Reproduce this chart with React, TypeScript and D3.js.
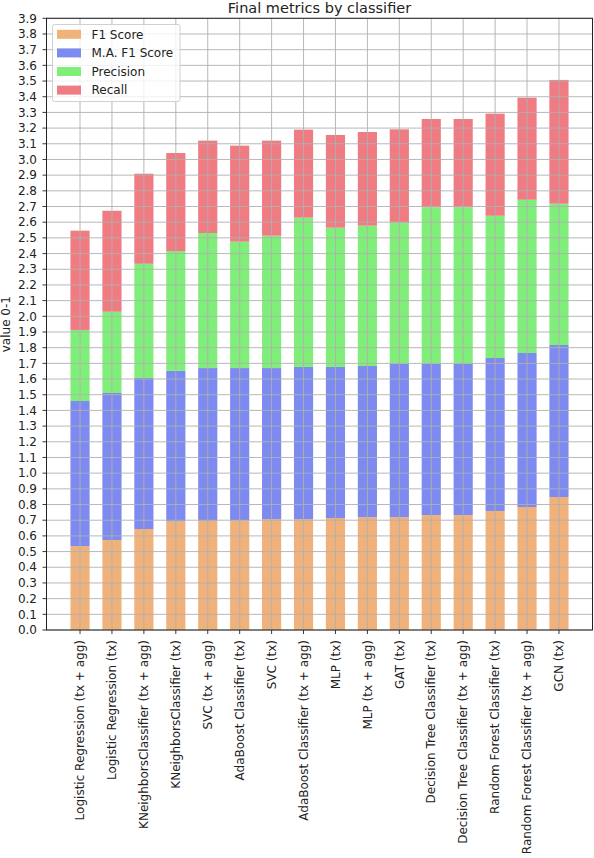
import React from "react";
import * as d3 from "d3";

const categories = [
  "Logistic Regression (tx + agg)",
  "Logistic Regression (tx)",
  "KNeighborsClassifier (tx + agg)",
  "KNeighborsClassifier (tx)",
  "SVC (tx + agg)",
  "AdaBoost Classifier (tx)",
  "SVC (tx)",
  "AdaBoost Classifier (tx + agg)",
  "MLP (tx)",
  "MLP (tx + agg)",
  "GAT (tx)",
  "Decision Tree Classifier (tx)",
  "Decision Tree Classifier (tx + agg)",
  "Random Forest Classifier (tx)",
  "Random Forest Classifier (tx + agg)",
  "GCN (tx)",
];

const f1Score = [0.535, 0.574, 0.644, 0.693, 0.697, 0.699, 0.707, 0.707, 0.714, 0.72, 0.72, 0.733, 0.733, 0.759, 0.784, 0.848];
const maF1Score = [0.925, 0.937, 0.963, 0.959, 0.973, 0.971, 0.963, 0.97, 0.963, 0.963, 0.978, 0.965, 0.965, 0.975, 0.982, 0.969];
const precision = [0.453, 0.518, 0.728, 0.764, 0.861, 0.806, 0.844, 0.952, 0.888, 0.895, 0.901, 0.997, 0.997, 0.907, 0.977, 0.901];
const recall = [0.633, 0.644, 0.574, 0.625, 0.589, 0.612, 0.606, 0.561, 0.591, 0.597, 0.593, 0.563, 0.563, 0.651, 0.651, 0.789];

const seriesNames = ["F1 Score", "M.A. F1 Score", "Precision", "Recall"];
const seriesColors = ["#f0b27a", "#7d8aef", "#80ef7a", "#ef7b83"];
const yTicks = d3.range(0, 40).map((i) => i / 10);

const W = 594;
const H = 858;
const M = { left: 46.5, right: 592.5, top: 18.3, bottom: 630 };

export default function App() {
  const n = categories.length;
  const x = d3.scaleLinear().domain([-1.05, n - 1 + 1.05]).range([M.left, M.right]);
  const y = d3.scaleLinear().domain([0, 3.9]).range([M.bottom, M.top]);
  const barW = (x(1) - x(0)) * 0.6;

  const rows = categories.map((c, i) => ({
    key: c,
    "F1 Score": f1Score[i],
    "M.A. F1 Score": maF1Score[i],
    Precision: precision[i],
    Recall: recall[i],
  }));
  const stacked = d3.stack<any>().keys(seriesNames)(rows);
  const font = "DejaVu Sans, sans-serif";
  const grid = "#b0b0b0";
  const fs = 12;

  return (
    <svg width={W} height={H} style={{ position: "absolute", left: 0, top: 0, background: "#fff" }} fontFamily={font}>
      <rect x={0} y={0} width={W} height={H} fill="#fff" />
      {stacked.map((s, si) => (
        <g key={s.key} fill={seriesColors[si]}>
          {s.map((d, i) => (
            <rect key={i} x={x(i) - barW / 2} y={y(d[1])} width={barW} height={y(d[0]) - y(d[1])} />
          ))}
        </g>
      ))}
      {/* grid */}
      <g stroke={grid} strokeWidth={0.9}>
        {yTicks.map((t) => (
          <line key={"gy" + t} x1={M.left} x2={M.right} y1={y(t)} y2={y(t)} />
        ))}
        {categories.map((c, i) => (
          <line key={"gx" + i} x1={x(i)} x2={x(i)} y1={M.top} y2={M.bottom} />
        ))}
      </g>
      {/* frame */}
      <rect x={M.left} y={M.top} width={M.right - M.left} height={M.bottom - M.top} fill="none" stroke="#222" strokeWidth={1} />
      {/* y axis */}
      <g fontSize={fs} fill="#222">
        {yTicks.map((t) => (
          <g key={"ty" + t}>
            <line x1={M.left - 4} x2={M.left} y1={y(t)} y2={y(t)} stroke="#222" strokeWidth={0.9} />
            <text x={M.left - 9.5} y={y(t)} dy="0.35em" textAnchor="end">
              {d3.format(".1f")(t)}
            </text>
          </g>
        ))}
      </g>
      <text transform={`translate(6, ${(M.top + M.bottom) / 2}) rotate(-90)`} textAnchor="middle" fontSize={fs} fill="#222" dy="0.35em">
        value 0-1
      </text>
      {/* x axis */}
      <g fontSize={fs} fill="#222">
        {categories.map((c, i) => (
          <g key={"tx" + i}>
            <line x1={x(i)} x2={x(i)} y1={M.bottom} y2={M.bottom + 4} stroke="#222" strokeWidth={0.9} />
            <text transform={`translate(${x(i)}, ${M.bottom + 10}) rotate(-90)`} textAnchor="end" dy="0.35em">
              {c}
            </text>
          </g>
        ))}
      </g>
      {/* title */}
      <text x={(M.left + M.right) / 2} y={13} textAnchor="middle" fontSize={14.5} fill="#222">
        Final metrics by classifier
      </text>
      {/* legend */}
      <g>
        <rect x={52.5} y={24.5} width={127.5} height={77} rx={2} fill="#fff" fillOpacity={0.8} stroke="#d0d0d0" strokeWidth={1} />
        {seriesNames.map((s, i) => (
          <g key={s} transform={`translate(0, ${34.3 + i * 18.6})`}>
            <rect x={57} y={-4.5} width={24} height={9} fill={seriesColors[i]} />
            <text x={91.5} y={0} dy="0.35em" fontSize={fs} fill="#222">
              {s}
            </text>
          </g>
        ))}
      </g>
    </svg>
  );
}
